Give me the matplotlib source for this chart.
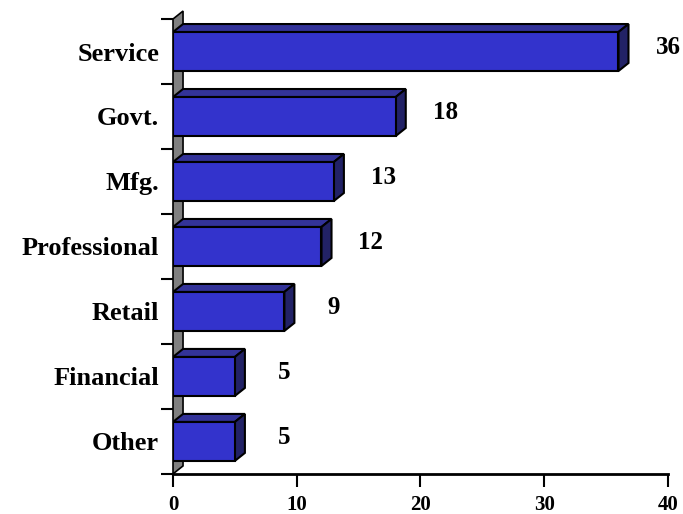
import matplotlib.pyplot as plt
from matplotlib.patches import Polygon, Rectangle

categories = ["Service", "Govt.", "Mfg.", "Professional", "Retail", "Financial", "Other"]
values = [36, 18, 13, 12, 9, 5, 5]
x_ticks = [0, 10, 20, 30, 40]

plt.rcParams['font.family'] = ['Liberation Serif', 'DejaVu Serif']
plt.rcParams['font.weight'] = 'bold'

fig = plt.figure(figsize=(6.83, 5.14), dpi=100)
ax = fig.add_axes([0.2533, 0.078, 0.7247, 0.885])

n = len(categories)
ax.set_xlim(0, 40)
ax.set_ylim(-0.5, n - 0.5)

# depth offset of the fake 3D, in data units (~10px right, ~8px up)
dx = 0.81
dy = 0.123
half = 0.3

front = "#3333cc"
top_c = "#333399"
side_c = "#222266"

# gray back wall
wall = Polygon([(0, -0.5), (dx, -0.5 + dy), (dx, n - 0.5 + dy), (0, n - 0.5)],
               closed=True, facecolor="#808080", edgecolor="black", lw=1.2,
               clip_on=False, zorder=1)
ax.add_patch(wall)

for i, (cat, v) in enumerate(zip(categories, values)):
    y = n - 1 - i
    ax.add_patch(Polygon([(0, y + half), (dx, y + half + dy), (v + dx, y + half + dy), (v, y + half)],
                         closed=True, facecolor=top_c, edgecolor="black", lw=1.5, zorder=3))
    ax.add_patch(Polygon([(v, y - half), (v + dx, y - half + dy), (v + dx, y + half + dy), (v, y + half)],
                         closed=True, facecolor=side_c, edgecolor="black", lw=1.5, zorder=3))
    ax.add_patch(Rectangle((0, y - half), v, 2 * half, facecolor=front,
                           edgecolor="black", lw=1.5, zorder=4))
    ax.text(v + 4, y + 0.06, str(v), ha="center", va="center",
            fontsize=18, fontweight="bold", clip_on=False)

ax.set_yticks(range(n))
ax.set_yticklabels(categories[::-1], fontsize=19, fontweight="bold")
ax.set_yticks([k - 0.5 for k in range(n + 1)], minor=True)
ax.tick_params(axis="y", which="major", length=0, pad=10)
ax.tick_params(axis="y", which="minor", length=9, width=1.5, direction="out")

ax.set_xticks(x_ticks)
ax.set_xticklabels([str(t) for t in x_ticks], fontsize=15, fontweight="bold")
ax.tick_params(axis="x", length=9, width=1.5, direction="out", pad=6)

for s in ["top", "right"]:
    ax.spines[s].set_visible(False)
ax.spines["left"].set_visible(False)
ax.spines["bottom"].set_linewidth(2)
ax.spines["bottom"].set_zorder(5)

fig.savefig("out.png", dpi=100)
